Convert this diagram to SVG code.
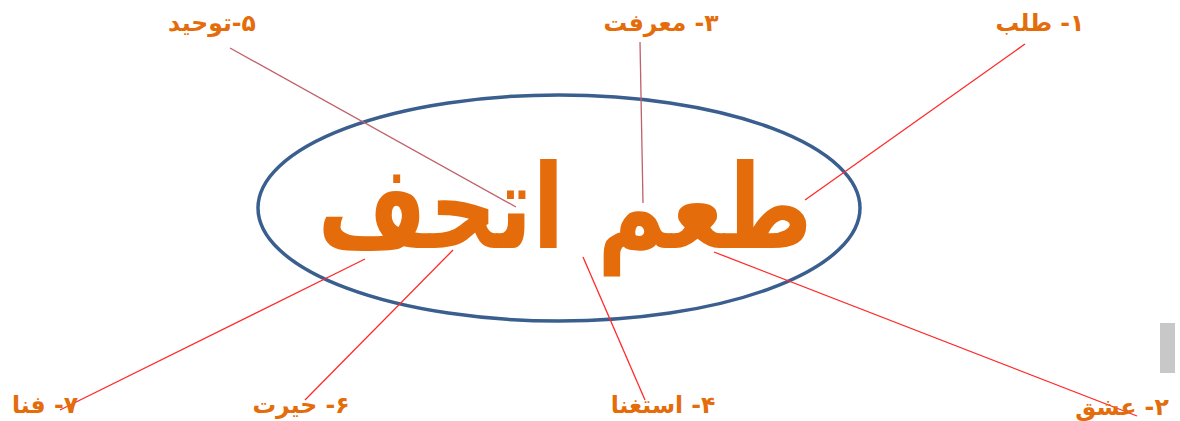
<svg xmlns="http://www.w3.org/2000/svg" width="1180" height="421" viewBox="0 0 1180 421">
<style>
.lbl{font-family:"DejaVu Sans",sans-serif;font-weight:bold;font-size:23.5px;fill:#e46c0a;text-anchor:middle;direction:rtl}
.ln{stroke:#ff2a2a;stroke-width:1.3;fill:none}
.ln2{stroke:#c0606a;stroke-width:1.3;fill:none}
</style>
<rect width="1180" height="421" fill="#ffffff"/>
<g id="center">
<ellipse cx="559" cy="208" rx="301" ry="113" fill="none" stroke="#3a5f8f" stroke-width="3.5"/>
<text x="565" y="248" transform="translate(0,248) scale(1,1.25) translate(0,-248)" font-family="DejaVu Sans,sans-serif" font-weight="bold" font-size="94" fill="#e46c0a" text-anchor="middle" direction="rtl">طعم اتحف</text>
</g>
<g id="connectors">
<line class="ln" x1="1025" y1="44" x2="805" y2="200"/>
<line class="ln2" x1="640" y1="42" x2="643" y2="203"/>
<line class="ln2" x1="230" y1="48" x2="516" y2="207"/>
<line class="ln" x1="60" y1="410" x2="365" y2="259"/>
<line class="ln" x1="305" y1="400" x2="453" y2="250"/>
<line class="ln" x1="583" y1="257" x2="645" y2="400"/>
<line class="ln" x1="714" y1="252" x2="1137" y2="416"/>
</g>
<g id="n1"><text class="lbl" x="1040" y="31">۱- طلب</text></g>
<g id="n2"><text class="lbl" x="1122" y="415">۲- عشق</text></g>
<g id="n3"><text class="lbl" x="661" y="31">۳- معرفت</text></g>
<g id="n4"><text class="lbl" x="663" y="413">۴- استغنا</text></g>
<g id="n5"><text class="lbl" x="212" y="31">۵-توحید</text></g>
<g id="n6"><text class="lbl" x="301" y="413">۶- حیرت</text></g>
<g id="n7"><text class="lbl" x="45" y="413">۷- فنا</text></g>
<rect x="1160" y="323" width="15" height="50" fill="#c8c8c8"/>
</svg>
